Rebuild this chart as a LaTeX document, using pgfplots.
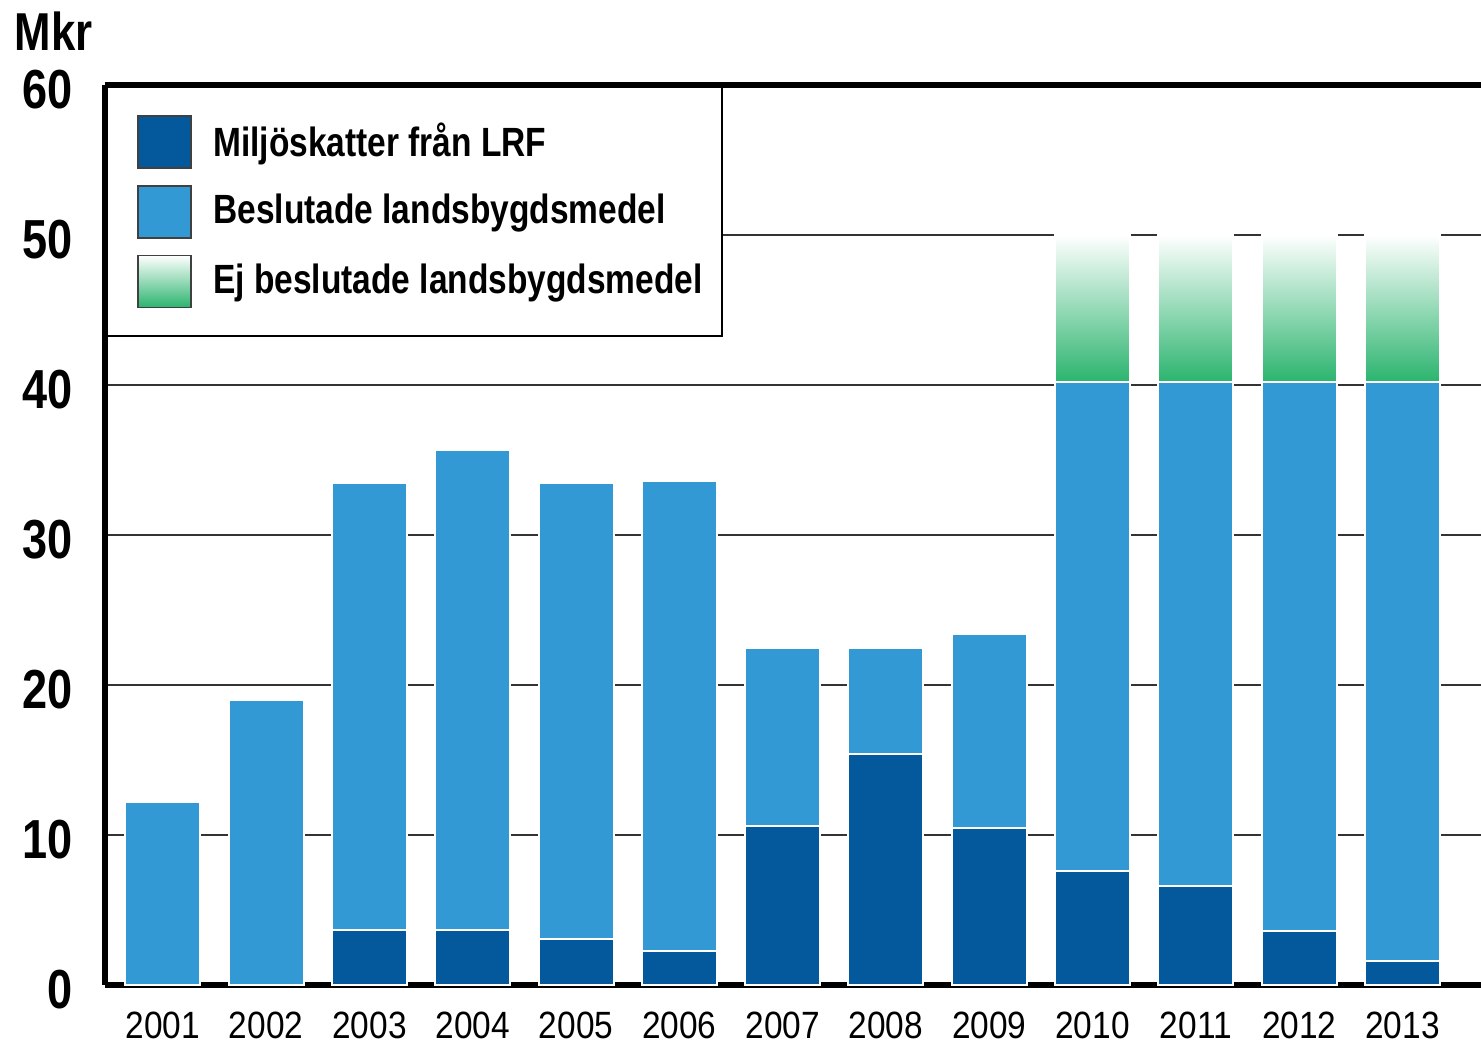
\documentclass[border=0pt]{standalone}
\usepackage{fontspec}
\setmainfont{Liberation Sans}[FakeStretch=0.82]
\newfontfamily\yearfont{Liberation Sans}[FakeStretch=0.88]
\usepackage{pgfplots}
\pgfplotsset{compat=1.18}
\definecolor{mdark}{HTML}{03599C}
\definecolor{mlight}{HTML}{3399D5}
\definecolor{mgreen}{HTML}{2BB46E}
% green from the bar bottom up to 40.2, fading to white at 50
\pgfdeclareverticalshading{greenfade}{100bp}{color(0bp)=(mgreen); color(65.2bp)=(mgreen); color(75bp)=(white); color(100bp)=(white)}
\tikzset{
  barbase/.style={ybar, bar width=22.5pt, bar shift=0pt, draw=white, line width=0.6pt},
  legsq/.style={draw=black!75, line width=0.5pt},
}
\begin{document}
\begin{tikzpicture}
\begin{axis}[
  scale only axis, width=412.8pt, height=270pt,
  xmin=-0.56, xmax=12.76, ymin=0, ymax=60,
  axis x line*=box, axis y line*=left,
  axis line style={line width=1.6pt, black},
  ytick={0,10,20,30,40,50,60},
  xtick={0,1,2,3,4,5,6,7,8,9,10,11,12},
  xticklabels={2001,2002,2003,2004,2005,2006,2007,2008,2009,2010,2011,2012,2013},
  major tick length=0pt,
  ymajorgrids, grid style={line width=0.5pt, black!80},
  /pgf/number format/assume math mode=true,
  yticklabel style={font=\bfseries\fontsize{16.5}{17}\selectfont, xshift=-6.2pt, yshift=-1.5pt},
  xticklabel style={font=\yearfont\fontsize{11.4}{12}\selectfont, inner sep=0pt, text depth=0pt, anchor=north, yshift=-7.8pt},
  every axis y label/.style={at={(rel axis cs:0,1)}, anchor=base west, xshift=-30.6pt, yshift=10.5pt, font=\bfseries\fontsize{16}{16}\selectfont},
  ylabel={Mkr},
  reverse legend,
  legend cell align=left,
  legend style={at={(rel axis cs:0,1)}, anchor=north west, xshift=0.5pt, yshift=-0.5pt,
    draw=black, line width=0.5pt, fill=white, inner xsep=3.7pt, inner ysep=8.3pt,
    row sep=4.8pt, column sep=4.4pt,
    font=\bfseries\fontsize{12.25}{14}\selectfont},
]
\addplot[barbase, shading=greenfade,
  legend image code/.code={\path (0pt,0pt); \draw[legsq, top color=white, bottom color=mgreen] (5.1pt,-7.8pt) rectangle (21.1pt,7.8pt);}]
  coordinates {(9,50) (10,50) (11,50) (12,50)};
\addlegendentry{Ej beslutade landsbygdsmedel}
\addplot[barbase, fill=mlight,
  legend image code/.code={\path (0pt,0pt); \draw[legsq, fill=mlight] (5.1pt,-7.8pt) rectangle (21.1pt,7.8pt);}]
  coordinates {(0,12.2) (1,19.0) (2,33.5) (3,35.7) (4,33.5) (5,33.6) (6,22.5) (7,22.5) (8,23.4) (9,40.2) (10,40.2) (11,40.2) (12,40.2)};
\addlegendentry{Beslutade landsbygdsmedel}
\addplot[barbase, fill=mdark,
  legend image code/.code={\path (0pt,0pt); \draw[legsq, fill=mdark] (5.1pt,-7.8pt) rectangle (21.1pt,7.8pt);}]
  coordinates {(2,3.7) (3,3.7) (4,3.1) (5,2.3) (6,10.6) (7,15.4) (8,10.5) (9,7.6) (10,6.6) (11,3.6) (12,1.6)};
\addlegendentry{Miljöskatter från LRF}
\end{axis}
\pgfresetboundingbox
\path (-31.5pt,-18.3pt) rectangle (412.8pt,295.5pt);
\end{tikzpicture}
\end{document}
